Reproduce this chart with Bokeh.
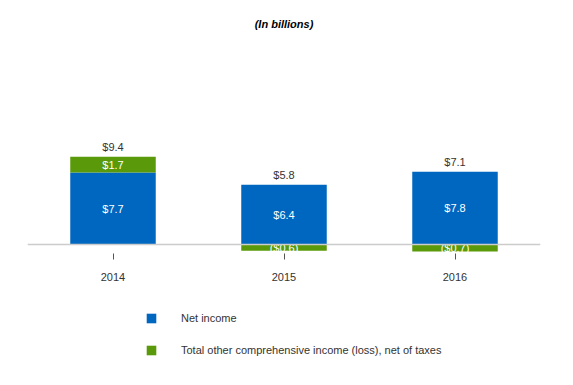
from bokeh.plotting import figure
from bokeh.models import ColumnDataSource, FactorRange, Range1d, CategoricalAxis, Legend, LegendItem
from bokeh.core.properties import value
from bokeh.embed import file_html
from bokeh.resources import INLINE

years = ["2014", "2015", "2016"]
net_income = [7.7, 6.4, 7.8]
other_ci = [1.7, -0.6, -0.7]
totals = [9.4, 5.8, 7.1]

BLUE = "#0067C0"
GREEN = "#5A9A0A"
FONT = "Liberation Sans"

def money(v):
    return "(${:.1f})".format(-v) if v < 0 else "${:.1f}".format(v)

ni_src = ColumnDataSource(dict(x=years, bottom=[0] * 3, top=net_income,
                               mid=[n / 2 for n in net_income],
                               label=[money(v) for v in net_income]))
oci_bottom = [n if o >= 0 else o for n, o in zip(net_income, other_ci)]
oci_top = [n + o if o >= 0 else 0 for n, o in zip(net_income, other_ci)]
oci_src = ColumnDataSource(dict(x=years, bottom=oci_bottom, top=oci_top,
                                mid=[(b + t) / 2 for b, t in zip(oci_bottom, oci_top)],
                                label=[money(v) for v in other_ci]))
tot_src = ColumnDataSource(dict(x=years, y=[max(n, n + o) for n, o in zip(net_income, other_ci)],
                                label=[money(v) for v in totals]))

p = figure(width=557, height=369, x_range=FactorRange(*years),
           y_range=Range1d(-13.245, 21.755), output_backend="svg",
           toolbar_location=None, y_axis_location=None,
           min_border_left=27, min_border_right=17, min_border_top=40,
           min_border_bottom=0)
p.outline_line_color = None
p.grid.visible = False

p.title.text = "(In billions)"
p.title.align = "center"
p.title.text_font = FONT
p.title.text_font_style = "bold italic"
p.title.text_font_size = "11px"
p.title.text_color = "#000000"
p.title.offset = 4
p.title.standoff = 22

ax = p.xaxis[0]
ax.fixed_location = 0
ax.axis_line_color = "#CCCCCC"
ax.axis_line_width = 1.5
ax.major_tick_line_color = None
ax.major_tick_out = 0
ax.major_tick_in = 0
ax.minor_tick_line_color = None
ax.major_label_standoff = 28
ax.major_label_text_font = FONT
ax.major_label_text_font_size = "11px"
ax.major_label_text_color = "#333333"

tick_axis = CategoricalAxis(fixed_location=-0.95, axis_line_color=None,
                            major_tick_out=6, major_tick_in=0,
                            major_tick_line_color="#555555",
                            major_label_text_alpha=0, major_label_text_font_size="1px")
p.add_layout(tick_axis, "below")

r_ni = p.vbar(x="x", bottom="bottom", top="top", width=0.5, source=ni_src,
              fill_color=BLUE, line_color=None)
r_oci = p.vbar(x="x", bottom="bottom", top="top", width=0.5, source=oci_src,
               fill_color=GREEN, line_color=None)

for src in (ni_src, oci_src):
    p.text(x="x", y="mid", text="label", source=src, text_align="center",
           text_baseline="middle", text_color="white",
           text_font=value(FONT), text_font_size="11px")
p.text(x="x", y="y", text="label", source=tot_src, text_align="center",
       text_baseline="middle", y_offset=-10, text_color="#333333",
       text_font=value(FONT), text_font_size="11px")

legend = Legend(items=[LegendItem(label="Net income", renderers=[r_ni]),
                       LegendItem(label="Total other comprehensive income (loss), net of taxes",
                                  renderers=[r_oci])],
                location=(118, 13), orientation="vertical",
                glyph_width=12, glyph_height=12, label_standoff=24,
                label_height=12, spacing=20, padding=0, margin=0,
                border_line_color=None, background_fill_alpha=0,
                label_text_font=FONT, label_text_font_size="11px",
                label_text_color="#333333")
p.add_layout(legend, "center")

open("out.html", "w").write(file_html(p, INLINE))
